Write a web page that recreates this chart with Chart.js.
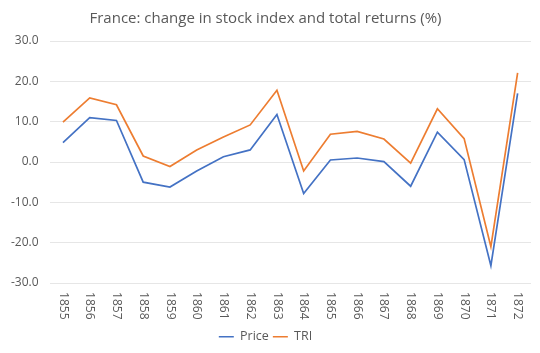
<!DOCTYPE html>
<html lang="en">
<head>
  <meta charset="UTF-8">
  <title>France: change in stock index and total returns</title>
  <script src="https://cdn.jsdelivr.net/npm/chart.js"></script>
  <style>
    body { margin: 0; background: #fff; }
    .wrap { width: 540px; height: 353px; position: relative; }
  </style>
</head>
<body>
  <div class="wrap"><canvas id="chart"></canvas></div>
  <script>
    const years = ['1855', '1856', '1857', '1858', '1859', '1860', '1861', '1862', '1863',
      '1864', '1865', '1866', '1867', '1868', '1869', '1870', '1871', '1872'];
    const price = [4.8, 11.0, 10.3, -5.0, -6.2, -2.2, 1.3, 3.0, 11.8,
      -7.8, 0.5, 1.0, 0.1, -6.0, 7.4, 0.6, -25.7, 17.0];
    const tri = [9.9, 15.9, 14.2, 1.5, -1.1, 3.0, 6.2, 9.2, 17.8,
      -2.2, 6.9, 7.6, 5.7, -0.3, 13.2, 5.8, -21.0, 22.1];

    const font = "'Open Sans', 'Noto Sans', sans-serif";
    const grey = '#595959';

    // x labels read top-to-bottom like Excel, so draw them ourselves
    const yearLabels = {
      id: 'yearLabels',
      afterDraw(chart) {
        const ctx = chart.ctx;
        const x = chart.scales.x;
        ctx.save();
        ctx.font = '12px ' + font;
        ctx.fillStyle = grey;
        ctx.textAlign = 'left';
        ctx.textBaseline = 'middle';
        years.forEach((y, i) => {
          ctx.save();
          ctx.translate(x.getPixelForValue(i), x.top + 9);
          ctx.rotate(Math.PI / 2);
          ctx.fillText(y, 0, 0);
          ctx.restore();
        });
        ctx.restore();
      }
    };

    new Chart(document.getElementById('chart'), {
      type: 'line',
      data: {
        labels: years,
        datasets: [
          { label: 'Price', data: price, borderColor: '#4472C4', backgroundColor: '#4472C4',
            borderWidth: 1.7, pointRadius: 0, tension: 0 },
          { label: 'TRI', data: tri, borderColor: '#ED7D31', backgroundColor: '#ED7D31',
            borderWidth: 1.7, pointRadius: 0, tension: 0 }
        ]
      },
      options: {
        responsive: true,
        maintainAspectRatio: false,
        animation: false,
        layout: { padding: { left: 0, right: 9, top: 5, bottom: 0 } },
        plugins: {
          title: {
            display: true,
            text: 'France: change in stock index and total returns (%)',
            color: grey,
            font: { family: font, size: 15, weight: 'normal' },
            padding: { top: 5, bottom: 13 }
          },
          legend: {
            position: 'bottom',
            labels: {
              color: grey,
              font: { family: font, size: 12.5 },
              usePointStyle: true,
              pointStyle: 'line',
              pointStyleWidth: 15,
              padding: 4
            }
          },
          tooltip: { enabled: false }
        },
        scales: {
          x: {
            offset: true,
            grid: { display: false },
            border: { display: false },
            ticks: { color: 'rgba(0,0,0,0)', font: { family: font, size: 12 }, minRotation: 90, maxRotation: 90, padding: 4 }
          },
          y: {
            min: -30,
            max: 30,
            grid: { color: '#e6e6e6', drawTicks: false },
            border: { display: false },
            ticks: {
              stepSize: 10,
              color: grey,
              font: { family: font, size: 12 },
              padding: 11,
              callback: v => v.toFixed(1)
            }
          }
        }
      },
      plugins: [yearLabels]
    });
  </script>
</body>
</html>
